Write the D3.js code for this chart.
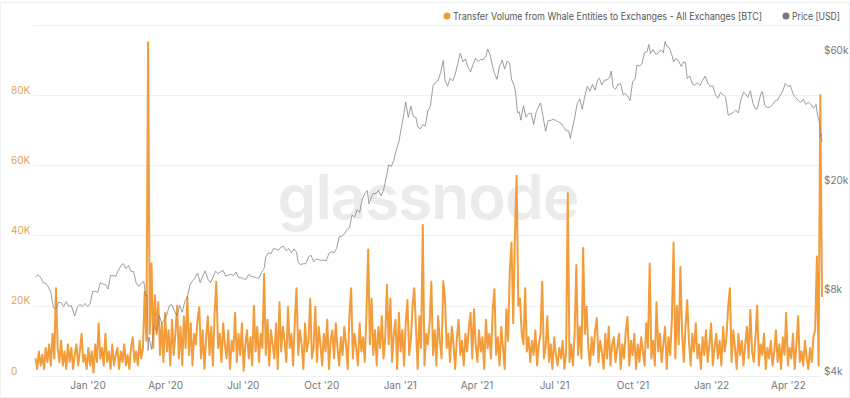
<!DOCTYPE html>
<html><head><meta charset="utf-8">
<script src="https://cdn.jsdelivr.net/npm/d3@7"></script>
<style>
html,body{margin:0;padding:0;background:#fff;}
svg{display:block;font-family:Inter,"Noto Sans",sans-serif;}
</style></head>
<body><svg id="chart" width="850" height="398"></svg>
<script>
// ---- data ----
const volumeStart = "2019-11-01";   // one value every 2 days, in thousands of BTC
const volumeStepDays = 2;
const volumeK = [
5,2,7,3,6,2,8,4,9,3,
12,5,25,8,4,10,3,7,2,9,
4,8,2,6,9,3,7,12,4,6,
2,8,3,7,1,9,4,15,5,8,
3,12,4,7,2,9,3,6,8,2,
7,4,9,3,6,2,8,11,4,7,
3,10,5,8,24,10,95,12,32,8,
23,12,21,6,15,4,18,7,13,3,
16,6,12,20,5,14,3,17,8,22.5,
6,15,3,12,9,16,19.6,5,13,2,
11,17,6,14,3,18,26.8,8,12,4,
15,9,5,13,2,10,7,18,4,12,
6,15,1.5,9,13,5,11,3,20,7,
14,4,12,8,29,6,16,3,13,9,
5,15,2,21,7,14,10,4,19.7,8,
12,3,16,25,6,13,9,2,15,7,
10,22,5,8,19.7,4,14,9,3,12,
7,16,2,10,13,5,15,8,3,11,
6,14,9,2,17,25,5,12,8,3,
15,7,11,4,18,36,9,22,6,13,
3,14,8,17,5,11,26,9,22,4,
12,16,2,18,7,13,3,15,21.6,6,
10,20,25,14,2,17,8,43,3,12,
9,15,26.8,6,13,3,17,10,5,27,
22,8,12,4,14,9,2,11,16,6,
10,3,12,7,14,18,5,19,9,4,
13,7,11,2,16,8,12,5,19,24.7,
6,11,3,14,8,2,19,10,30,38,
15,40,57,20,22,12,9,25,7,11,
4,10,6,13,3,9,12,26.8,5,8,
17,4,9,2,11,6,3,8,5,10,
2,7,52,4,9,3,12,31.6,6,14,
5,36.4,12,19.7,8,3,11,6,13,16.5,
4,10,7,2,12,5,14,3,9,11,
4,8,12,2,9,5,13,16.8,3,10,
6,12,2,9,4,11,7,3,15,8,
32,5,10,3,21,7,12,4,9,14,
2,11,6,16,38,5,20,9,31,12,
4,14,21.6,10,3,12,7,15,5,9,
2,11,6,13,4,9,15,3,8,12,
5,10,3,14,7,11,19.7,25,4,13,
8,2,12,6,10,3,9,14,5,18.8,
7,4,11,20,3,9,6,12,2,8,
5,10,3,7,13,4,9,2,11,6,
18,3,8,5,12,2,9,17,4,7,
3,10,5,2,8,4,11,13,34,3,
80,22.5
];

const priceDates = [
"2019-11-01","2019-11-04","2019-11-07","2019-11-10","2019-11-13","2019-11-16","2019-11-19","2019-11-22","2019-11-25","2019-11-28",
"2019-12-01","2019-12-04","2019-12-07","2019-12-10","2019-12-13","2019-12-17","2019-12-20","2019-12-23","2019-12-26","2019-12-29",
"2020-01-01","2020-01-04","2020-01-07","2020-01-10","2020-01-13","2020-01-16","2020-01-19","2020-01-22","2020-01-25","2020-01-28",
"2020-01-31","2020-02-03","2020-02-06","2020-02-09","2020-02-12","2020-02-15","2020-02-18","2020-02-21","2020-02-24","2020-02-27",
"2020-03-01","2020-03-04","2020-03-07","2020-03-09","2020-03-11","2020-03-12","2020-03-13","2020-03-16","2020-03-19","2020-03-22",
"2020-03-25","2020-03-28","2020-03-31","2020-04-03","2020-04-06","2020-04-09","2020-04-12","2020-04-15","2020-04-18","2020-04-21",
"2020-04-24","2020-04-27","2020-04-30","2020-05-03","2020-05-06","2020-05-09","2020-05-12","2020-05-15","2020-05-18","2020-05-21",
"2020-05-24","2020-05-27","2020-05-30","2020-06-02","2020-06-05","2020-06-08","2020-06-11","2020-06-14","2020-06-17","2020-06-20",
"2020-06-23","2020-06-26","2020-06-29","2020-07-02","2020-07-05","2020-07-08","2020-07-11","2020-07-14","2020-07-17","2020-07-20",
"2020-07-23","2020-07-26","2020-07-28","2020-07-31","2020-08-03","2020-08-06","2020-08-09","2020-08-12","2020-08-15","2020-08-18",
"2020-08-21","2020-08-24","2020-08-27","2020-08-30","2020-09-02","2020-09-04","2020-09-07","2020-09-10","2020-09-13","2020-09-16",
"2020-09-19","2020-09-22","2020-09-25","2020-09-28","2020-10-01","2020-10-04","2020-10-07","2020-10-10","2020-10-13","2020-10-16",
"2020-10-19","2020-10-22","2020-10-25","2020-10-28","2020-10-31","2020-11-03","2020-11-06","2020-11-09","2020-11-12","2020-11-15",
"2020-11-18","2020-11-21","2020-11-24","2020-11-26","2020-11-29","2020-12-01","2020-12-04","2020-12-07","2020-12-10","2020-12-13",
"2020-12-16","2020-12-19","2020-12-22","2020-12-25","2020-12-28","2020-12-31","2021-01-03","2021-01-06","2021-01-08","2021-01-11",
"2021-01-14","2021-01-17","2021-01-20","2021-01-22","2021-01-25","2021-01-28","2021-01-31","2021-02-03","2021-02-06","2021-02-09",
"2021-02-12","2021-02-15","2021-02-18","2021-02-21","2021-02-23","2021-02-26","2021-03-01","2021-03-04","2021-03-07","2021-03-10",
"2021-03-13","2021-03-16","2021-03-19","2021-03-22","2021-03-25","2021-03-28","2021-03-31","2021-04-03","2021-04-06","2021-04-09",
"2021-04-12","2021-04-14","2021-04-17","2021-04-19","2021-04-22","2021-04-25","2021-04-28","2021-05-01","2021-05-04","2021-05-07",
"2021-05-10","2021-05-12","2021-05-15","2021-05-17","2021-05-19","2021-05-21","2021-05-23","2021-05-26","2021-05-29","2021-06-01",
"2021-06-04","2021-06-07","2021-06-10","2021-06-13","2021-06-15","2021-06-18","2021-06-21","2021-06-24","2021-06-27","2021-06-30",
"2021-07-03","2021-07-06","2021-07-09","2021-07-12","2021-07-15","2021-07-18","2021-07-20","2021-07-22","2021-07-25","2021-07-28",
"2021-07-31","2021-08-03","2021-08-06","2021-08-09","2021-08-12","2021-08-15","2021-08-18","2021-08-21","2021-08-23","2021-08-26",
"2021-08-29","2021-09-01","2021-09-04","2021-09-06","2021-09-08","2021-09-11","2021-09-14","2021-09-17","2021-09-20","2021-09-22",
"2021-09-25","2021-09-28","2021-10-01","2021-10-04","2021-10-06","2021-10-09","2021-10-12","2021-10-15","2021-10-18","2021-10-20",
"2021-10-22","2021-10-25","2021-10-28","2021-10-31","2021-11-03","2021-11-06","2021-11-08","2021-11-10","2021-11-13","2021-11-16",
"2021-11-18","2021-11-21","2021-11-24","2021-11-27","2021-11-30","2021-12-02","2021-12-04","2021-12-07","2021-12-10","2021-12-13",
"2021-12-16","2021-12-19","2021-12-22","2021-12-25","2021-12-28","2021-12-31","2022-01-03","2022-01-06","2022-01-09","2022-01-12",
"2022-01-15","2022-01-18","2022-01-21","2022-01-24","2022-01-27","2022-01-30","2022-02-02","2022-02-05","2022-02-08","2022-02-10",
"2022-02-13","2022-02-16","2022-02-19","2022-02-22","2022-02-24","2022-02-28","2022-03-02","2022-03-05","2022-03-08","2022-03-11",
"2022-03-14","2022-03-17","2022-03-20","2022-03-23","2022-03-26","2022-03-29","2022-04-01","2022-04-04","2022-04-07","2022-04-10",
"2022-04-13","2022-04-16","2022-04-19","2022-04-22","2022-04-25","2022-04-28","2022-05-01","2022-05-04","2022-05-06","2022-05-08",
"2022-05-09","2022-05-10","2022-05-11"
];
const priceUSD = [
9260,9410,9200,8810,8760,8500,8120,7150,7050,7460,
7420,7200,7500,7220,7250,6640,7150,7320,7200,7390,
7200,7350,8160,8190,8110,8800,8700,8660,8340,9360,
9350,9290,9750,10150,10350,9900,10180,9690,9660,8790,
8520,8760,8900,7900,7910,4970,5560,5010,6190,5830,
6680,6240,6440,6730,7270,7300,6910,6640,7260,6860,
7500,7760,8620,8910,9150,9560,8800,9310,9730,9080,
8790,9200,9700,9500,9660,9760,9300,9380,9450,9360,
9630,9180,9190,9080,9070,9440,9280,9250,9150,9160,
9600,9930,10950,11350,11230,11750,11680,11580,11910,11960,
11520,11750,11320,11710,11400,10450,10250,10340,10330,10950,
11090,10520,10730,10700,10620,10670,10600,11300,11430,11330,
11750,12990,13030,13280,13800,14000,15580,15330,16300,15960,
17800,18680,19160,17140,18180,18770,18660,19190,18320,19250,
21310,23860,23480,24710,27080,28990,32780,36770,40580,35570,
39190,35830,35550,33030,32270,33470,33110,37620,39260,46480,
47910,48630,52150,57540,48820,46340,49590,48440,51210,55960,
61200,56900,58330,54530,52290,55780,58770,57090,58020,58080,
59830,63500,60370,56250,51720,49120,54870,57800,53550,57350,
55860,49150,46760,43540,37000,37340,34770,39290,35670,36690,
36880,33560,37340,39100,40220,35820,31680,34660,34700,35040,
34660,34230,33850,32880,31790,31780,29790,32110,35350,39990,
41630,38150,42800,46360,44420,47050,44800,48950,49550,46860,
48830,48850,49940,52660,46060,45160,47110,47270,43010,43580,
42710,41040,48140,49230,55360,54970,56040,61670,62040,65990,
61000,63230,60620,61310,62970,61530,67550,64990,64160,60380,
56940,58730,57140,54760,56910,56570,49380,50600,47280,46740,
47630,46680,48620,50430,47590,46310,46430,43160,41870,43950,
43080,42260,36280,36650,37140,37920,36950,41440,44040,43500,
42200,44580,40120,38280,38200,43190,44350,39400,38740,38800,
39670,40920,41260,42900,44500,47460,46280,46620,43450,42150,
41140,40420,41510,39710,40450,39740,38470,39700,36040,34060,
30300,31020,28940
];

const volumeTicks = [0, 20000, 40000, 60000, 80000, 100000];
const volumeTickLabels = ["0", "20K", "40K", "60K", "80K", ""];
const priceTicks = [4000, 8000, 20000, 60000];
const priceTickLabels = ["$4k", "$8k", "$20k", "$60k"];
const xTickDates = ["2020-01-01","2020-04-01","2020-07-01","2020-10-01","2021-01-01","2021-04-01","2021-07-01","2021-10-01","2022-01-01","2022-04-01"];
const xTickLabels = ["Jan '20","Apr '20","Jul '20","Oct '20","Jan '21","Apr '21","Jul '21","Oct '21","Jan '22","Apr '22"];
const legendLabels = ["Transfer Volume from Whale Entities to Exchanges - All Exchanges [BTC]", "Price [USD]"];

// ---- build ----
const parse = d3.utcParse("%Y-%m-%d");
const t0 = parse(volumeStart);
const volume = volumeK.map((v, i) => ({ date: d3.utcDay.offset(t0, i * volumeStepDays), value: v * 1000 }));
const price = priceDates.map((d, i) => ({ date: parse(d), value: priceUSD[i] }));

const ORANGE = "#f39c3a", GREY = "#858585";
const plotL = 33, plotR = 822, plotTop = 24.6, plotBottom = 376;

const svg = d3.select("#chart");
svg.append("rect").attr("x", 0.5).attr("y", 2.5).attr("width", 849).attr("height", 395)
  .attr("fill", "#fff").attr("stroke", "#efefef");

const x = d3.scaleUtc().domain([parse("2019-11-01"), parse("2022-05-11")]).range([35.5, 822]);
const yV = d3.scaleLinear().domain([0, 100000]).range([plotBottom, plotTop]);
const yP = d3.scaleLog().domain([4000, 78000]).range([plotBottom, plotTop]);

// gridlines
svg.append("g").selectAll("line").data(volumeTicks).join("line")
  .attr("x1", plotL).attr("x2", plotR)
  .attr("y1", d => Math.round(yV(d)) + 0.5).attr("y2", d => Math.round(yV(d)) + 0.5)
  .attr("stroke", "#f0f0f0").attr("stroke-width", 1);

// watermark
svg.append("text").attr("x", 428).attr("y", 219).attr("text-anchor", "middle")
  .attr("font-family", "Inter, 'Noto Sans', sans-serif").attr("font-weight", 600)
  .attr("font-size", 62).attr("fill", "#ebebeb").attr("letter-spacing", -1)
  .text("glassnode");

// left axis labels
const yAxisL = d3.axisLeft(yV).tickValues(volumeTicks).tickFormat((d, i) => volumeTickLabels[i]).tickSize(0).tickPadding(0);
const gL = svg.append("g").attr("transform", "translate(11,-5)").call(yAxisL);
gL.select(".domain").remove();
gL.selectAll("text").attr("text-anchor", "start").attr("fill", "#e0a35c").attr("font-size", 10)
  .attr("font-family", "Inter, 'Noto Sans', sans-serif");

// right axis labels
const yAxisR = d3.axisRight(yP).tickValues(priceTicks).tickFormat((d, i) => priceTickLabels[i]).tickSize(0).tickPadding(0);
const gR = svg.append("g").attr("transform", "translate(824,-5)").call(yAxisR);
gR.select(".domain").remove();
gR.selectAll("text").attr("fill", "#777").attr("font-size", 10)
  .attr("font-family", "Inter, 'Noto Sans', sans-serif");

// x axis labels
const xAxis = d3.axisBottom(x).tickValues(xTickDates.map(parse)).tickFormat((d, i) => xTickLabels[i]).tickSize(0).tickPadding(0);
const gX = svg.append("g").attr("transform", "translate(0,382)").call(xAxis);
gX.select(".domain").remove();
gX.selectAll("text").attr("fill", "#777").attr("font-size", 10)
  .attr("font-family", "Inter, 'Noto Sans', sans-serif");

// volume line
svg.append("path").datum(volume)
  .attr("fill", "none").attr("stroke", ORANGE).attr("stroke-width", 2).attr("stroke-linejoin", "round")
  .attr("d", d3.line().x(d => x(d.date)).y(d => yV(d.value)));

// price line
svg.append("path").datum(price)
  .attr("fill", "none").attr("stroke", GREY).attr("stroke-width", 0.8).attr("stroke-linejoin", "round")
  .attr("d", d3.line().x(d => x(d.date)).y(d => yP(d.value)));

// legend
const lg = svg.append("g").attr("font-family", "Inter, 'Noto Sans', sans-serif").attr("font-size", 10).attr("fill", "#555");
lg.append("circle").attr("cx", 447).attr("cy", 16).attr("r", 3.5).attr("fill", ORANGE);
lg.append("text").attr("x", 453).attr("y", 16).attr("dy", "0.35em").attr("textLength", 309).attr("lengthAdjust", "spacingAndGlyphs").text(legendLabels[0]);
lg.append("circle").attr("cx", 786).attr("cy", 16).attr("r", 3.5).attr("fill", "#777");
lg.append("text").attr("x", 792).attr("y", 16).attr("dy", "0.35em").attr("textLength", 48).attr("lengthAdjust", "spacingAndGlyphs").text(legendLabels[1]);
</script></body></html>
